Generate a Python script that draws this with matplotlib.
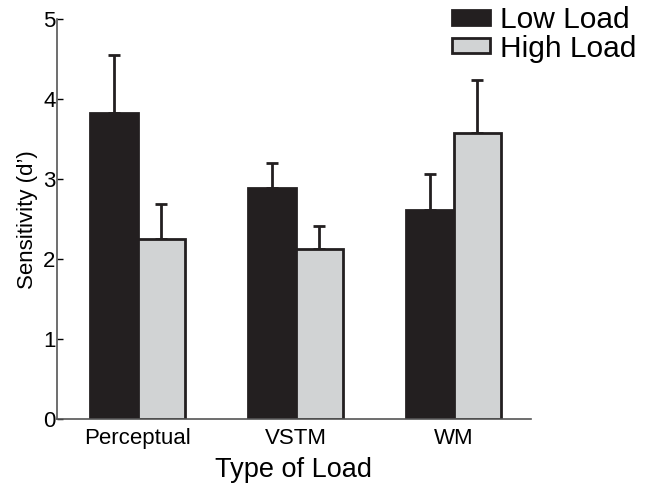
import matplotlib
matplotlib.use("Agg")
import matplotlib.pyplot as plt
import numpy as np

plt.rcParams['font.family'] = ['Liberation Sans', 'DejaVu Sans']

categories = ["Perceptual", "VSTM", "WM"]
low_load = [3.83, 2.89, 2.61]
low_err = [0.72, 0.31, 0.45]
high_load = [2.25, 2.13, 3.58]
high_err = [0.44, 0.29, 0.66]
yticks = [0, 1, 2, 3, 4, 5]

dark = "#231f20"
light = "#d1d3d4"

fig = plt.figure(figsize=(6.52, 4.88), dpi=100)
ax = fig.add_axes([0.0874, 0.1408, 0.727, 0.8197])

x = np.arange(len(categories))
w = 0.30
ax.bar(x - w/2, low_load, w, color=dark, edgecolor=dark, linewidth=2, label="Low Load", zorder=2)
ax.bar(x + w/2, high_load, w, color=light, edgecolor=dark, linewidth=2, label="High Load", zorder=2)
ax.errorbar(x - w/2, low_load, yerr=[np.zeros(3), low_err], fmt='none', ecolor=dark,
            elinewidth=2, capsize=4, capthick=2, zorder=1)
ax.errorbar(x + w/2, high_load, yerr=[np.zeros(3), high_err], fmt='none', ecolor=dark,
            elinewidth=2, capsize=4, capthick=2, zorder=1)

ax.set_xlim(-0.51, 2.49)
ax.set_ylim(0, 5)
ax.set_yticks(yticks)
ax.set_xticks(x)
ax.set_xticklabels(categories, fontsize=16)
ax.tick_params(axis='x', length=0, pad=6)
ax.tick_params(axis='y', direction='in', length=4, width=1, pad=1, labelsize=16)
for s in ['top', 'right']:
    ax.spines[s].set_visible(False)
for s in ['left', 'bottom']:
    ax.spines[s].set_color('#555555')
    ax.spines[s].set_linewidth(1.2)

ax.set_ylabel("Sensitivity (d’)", fontsize=16, labelpad=4)
ax.set_xlabel("Type of Load", fontsize=19.5, labelpad=6)

fig.legend(loc='upper right', bbox_to_anchor=(0.985, 1.0), fontsize=21.5, frameon=False,
           handlelength=1.27, handleheight=0.4, handletextpad=0.33, labelspacing=0.02,
           borderaxespad=0.1, borderpad=0.1)

fig.savefig("out.png", dpi=100)
